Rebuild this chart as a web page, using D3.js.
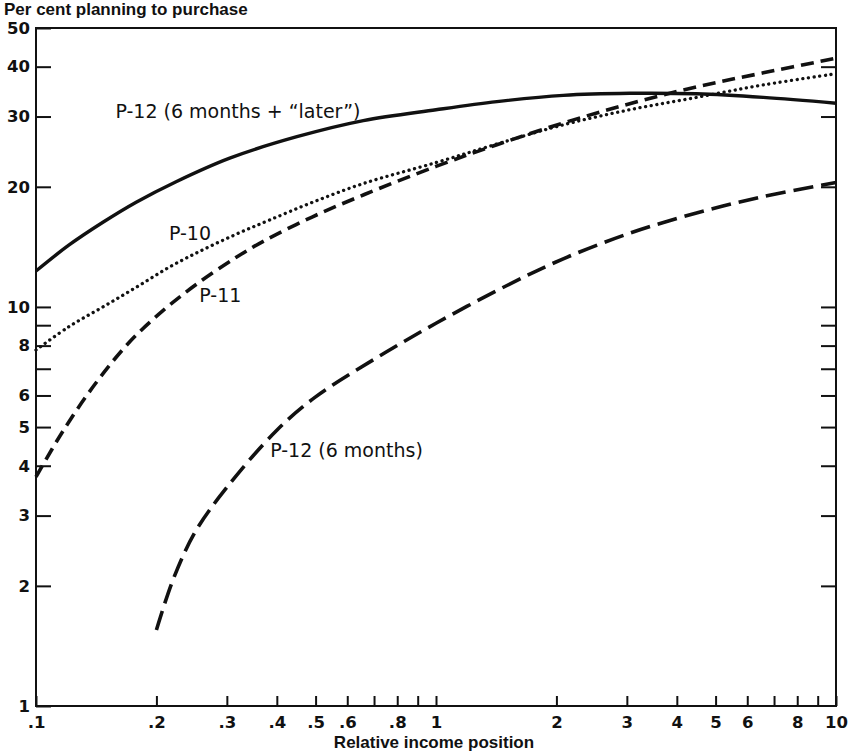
<!DOCTYPE html>
<html>
<head>
<meta charset="utf-8">
<script src="https://cdn.jsdelivr.net/npm/d3@7"></script>
<style>
  body { margin: 0; background: #fff; }
  text { fill: #111; }
</style>
</head>
<body>
<div id="chart"></div>
<script>
// values (log-log chart)
const yTicks = [1, 2, 3, 4, 5, 6, 7, 8, 9, 10, 20, 30, 40, 50]
const yLabeled = [1, 2, 3, 4, 5, 6, 8, 10, 20, 30, 40, 50]
const xTicks = [0.1, 0.2, 0.3, 0.4, 0.5, 0.6, 0.7, 0.8, 0.9, 1, 2, 3, 4, 5, 6, 7, 8, 9, 10]
const xLabeled = [0.1, 0.2, 0.3, 0.4, 0.5, 0.6, 0.8, 1, 2, 3, 4, 5, 6, 8, 10]

// P-12 (6 months + "later") - solid
const p12LaterX = [0.1, 0.121, 0.147, 0.178, 0.224, 0.305, 0.449, 0.658, 1.0, 1.42, 2.08, 3.05, 4.48, 6.58, 10]
const p12LaterY = [12.3, 14.3, 16.3, 18.3, 20.6, 23.6, 26.7, 29.3, 31.2, 32.7, 33.9, 34.3, 34.2, 33.5, 32.4]

// P-10 - dotted
const p10X = [0.1, 0.121, 0.147, 0.178, 0.216, 0.261, 0.316, 0.383, 0.492, 0.66, 1.0, 1.42, 2.08, 3.05, 4.48, 6.58, 10]
const p10Y = [7.8, 8.93, 10.0, 11.2, 12.6, 13.9, 15.2, 16.5, 18.3, 20.4, 23.0, 25.6, 28.6, 31.2, 33.5, 36.0, 38.4]

// P-11 - short dashes
const p11X = [0.1, 0.117, 0.142, 0.172, 0.208, 0.252, 0.316, 0.37, 0.49, 0.66, 1.0, 1.42, 2.08, 3.05, 4.48, 6.58, 10]
const p11Y = [3.75, 4.9, 6.5, 8.2, 9.8, 11.4, 13.3, 14.6, 16.8, 19.1, 22.5, 25.5, 28.9, 32.3, 35.6, 38.6, 42.0]

// P-12 (6 months) - long dashes
const p12X = [0.2, 0.22, 0.25, 0.3, 0.4, 0.5, 0.7, 1.0, 1.5, 2.08, 3.05, 4.48, 6.58, 10]
const p12Y = [1.55, 2.07, 2.73, 3.53, 4.91, 5.95, 7.39, 9.1, 11.3, 13.2, 15.3, 17.2, 18.9, 20.5]

const width = 856
const height = 755
const margin = {top: 28, right: 20, bottom: 49, left: 36}

const svg = d3.select('#chart')
    .append('svg')
    .attr('width', width)
    .attr('height', height)

const x = d3.scaleLog()
    .domain([0.1, 10])
    .range([margin.left, width - margin.right])

const y = d3.scaleLog()
    .domain([1, 50])
    .range([height - margin.bottom, margin.top])

const fmtX = d => xLabeled.includes(d) ? (d < 1 ? String(d).replace('0.', '.') : String(d)) : ''
const fmtY = d => yLabeled.includes(d) ? String(d) : ''

const tickFont = g => g.selectAll('text')
    .attr('font-family', '"DejaVu Sans", sans-serif')
    .attr('font-size', 16.5)
    .attr('font-weight', 'bold')
    .attr('fill', '#111')

// left axis, ticks pointing into the plot
svg.append('g')
    .attr('transform', `translate(${margin.left},0)`)
    .call(d3.axisLeft(y).tickValues(yTicks).tickFormat(fmtY).tickSizeInner(-15).tickSizeOuter(0).tickPadding(6))
    .call(g => g.select('.domain').remove())
    .call(g => g.selectAll('line').attr('stroke', '#111').attr('stroke-width', 2))
    .call(tickFont)

// right axis, ticks only
svg.append('g')
    .attr('transform', `translate(${width - margin.right},0)`)
    .call(d3.axisRight(y).tickValues(yTicks.filter(v => v > 1 && v < 50)).tickFormat('').tickSizeInner(-15).tickSizeOuter(0))
    .call(g => g.select('.domain').remove())
    .call(g => g.selectAll('line').attr('stroke', '#111').attr('stroke-width', 2))

// bottom axis
svg.append('g')
    .attr('transform', `translate(0,${height - margin.bottom})`)
    .call(d3.axisBottom(x).tickValues(xTicks).tickFormat(fmtX).tickSizeInner(-10).tickSizeOuter(0).tickPadding(10))
    .call(g => g.select('.domain').remove())
    .call(g => g.selectAll('line').attr('stroke', '#111').attr('stroke-width', 2))
    .call(tickFont)

// frame
svg.append('rect')
    .attr('x', margin.left)
    .attr('y', margin.top)
    .attr('width', width - margin.left - margin.right)
    .attr('height', height - margin.top - margin.bottom)
    .attr('fill', 'none')
    .attr('stroke', '#111')
    .attr('stroke-width', 2)

const line = d3.line()
    .x(d => x(d[0]))
    .y(d => y(d[1]))
    .curve(d3.curveCatmullRom)

const series = [
    {xs: p12LaterX, ys: p12LaterY, dash: null, cap: 'butt', w: 3.4},
    {xs: p10X, ys: p10Y, dash: '0.1 5.6', cap: 'round', w: 3.3},
    {xs: p11X, ys: p11Y, dash: '13 7', cap: 'butt', w: 3.6},
    {xs: p12X, ys: p12Y, dash: '20 8', cap: 'butt', w: 3.6}
]

svg.append('g')
    .selectAll('path')
    .data(series)
    .join('path')
    .attr('d', s => line(s.xs.map((v, i) => [v, s.ys[i]])))
    .attr('fill', 'none')
    .attr('stroke', '#111')
    .attr('stroke-width', s => s.w)
    .attr('stroke-dasharray', s => s.dash)
    .attr('stroke-linecap', s => s.cap)

// curve labels
const labels = [
    {t: 'P-12 (6 months + \u201Clater\u201D)', x: 0.158, y: 29.8},
    {t: 'P-10', x: 0.215, y: 14.7},
    {t: 'P-11', x: 0.256, y: 10.3},
    {t: 'P-12 (6 months)', x: 0.385, y: 4.21}
]
svg.append('g')
    .selectAll('text')
    .data(labels)
    .join('text')
    .attr('x', d => x(d.x))
    .attr('y', d => y(d.y))
    .attr('font-family', '"DejaVu Sans", sans-serif')
    .attr('font-size', 19)
    .text(d => d.t)

svg.append('text')
    .attr('x', 4)
    .attr('y', 15)
    .attr('font-family', '"Liberation Sans", Arial, sans-serif')
    .attr('font-size', 17)
    .attr('font-weight', 'bold')
    .text('Per cent planning to purchase')

svg.append('text')
    .attr('x', x(1) - 2)
    .attr('y', 748)
    .attr('text-anchor', 'middle')
    .attr('font-family', '"Liberation Sans", Arial, sans-serif')
    .attr('font-size', 17)
    .attr('font-weight', 'bold')
    .text('Relative income position')
</script>
</body>
</html>
